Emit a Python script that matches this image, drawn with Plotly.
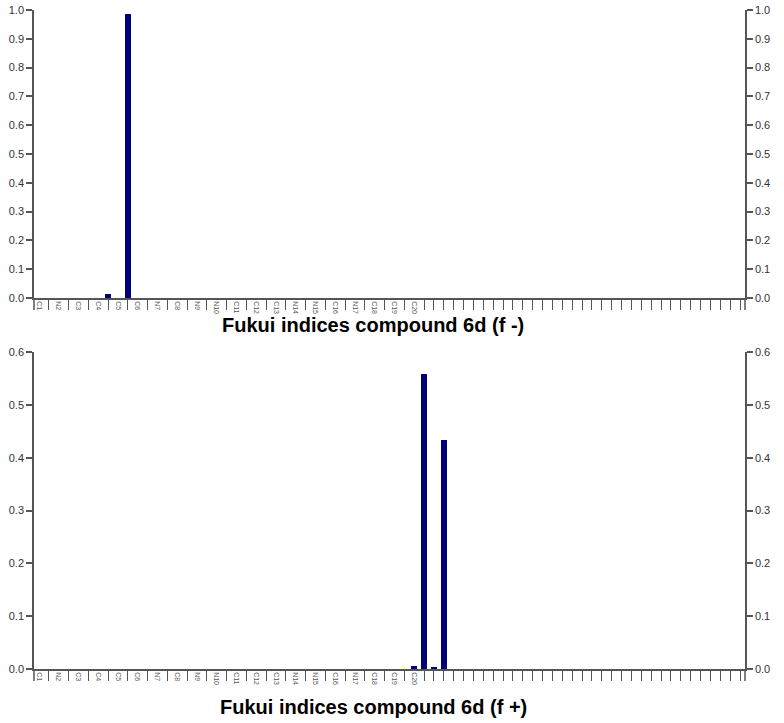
import plotly.graph_objects as go

# ---- data ----
atom_labels = ["C1", "N2", "C3", "C4", "C5", "C6", "N7", "C8", "N9", "N10",
               "C11", "C12", "C13", "N14", "N15", "C16", "N17", "C18", "C19", "C20"]
n_slots = 72
label_slots = list(range(0, 40, 2))
tick_slots = [i for i in range(n_slots) if i not in label_slots]

f_minus_slots = [7, 9]
f_minus_values = [0.015, 0.985]

f_plus_slots = [38, 39, 40, 41]
f_plus_values = [0.005, 0.559, 0.004, 0.434]

top_title = "Fukui indices compound 6d (f -)"
bottom_title = "Fukui indices compound 6d (f +)"

bar_color = "#00007a"
axis_color = "#555555"
label_color = "#333333"

W, H = 784, 723

fig = go.Figure()

fig.add_trace(go.Bar(x=f_minus_slots, y=f_minus_values, width=0.55,
                     marker=dict(color=bar_color, line=dict(width=0)),
                     xaxis="x", yaxis="y"))
fig.add_trace(go.Bar(x=f_minus_slots, y=f_minus_values, width=0.55, opacity=0,
                     hoverinfo="skip", xaxis="x", yaxis="y3"))
fig.add_trace(go.Bar(x=f_plus_slots, y=f_plus_values, width=0.55,
                     marker=dict(color=bar_color, line=dict(width=0)),
                     xaxis="x2", yaxis="y2"))
fig.add_trace(go.Bar(x=f_plus_slots, y=f_plus_values, width=0.55, opacity=0,
                     hoverinfo="skip", xaxis="x2", yaxis="y4"))

xdom = [34 / W, 745 / W]
top_dom = [1 - 298 / H, 1 - 10 / H]
bot_dom = [1 - 669 / H, 1 - 352 / H]


def xaxis_cfg(anchor):
    return dict(
        domain=xdom, anchor=anchor, range=[-0.5, n_slots - 0.5],
        showline=True, linecolor=axis_color, linewidth=1.5,
        showgrid=False, zeroline=False,
        tickmode="array", tickvals=label_slots, ticktext=atom_labels,
        ticks="", tickangle=90,
        tickfont=dict(family="Liberation Sans, Arial", size=7, color=axis_color),
        minor=dict(tickmode="array", tickvals=tick_slots, ticks="outside",
                   ticklen=10, tickcolor=axis_color, tickwidth=1),
        automargin=False,
    )


def yaxis_cfg(dom, rng, anchor, side="left", overlay=None):
    d = dict(
        domain=dom, anchor=anchor, range=rng, side=side,
        showline=True, linecolor=axis_color, linewidth=1.5,
        showgrid=False, zeroline=False,
        tickmode="linear", tick0=0, dtick=0.1, tickformat=".1f",
        ticks="outside", ticklen=6, tickcolor=axis_color, tickwidth=1.5,
        tickfont=dict(family="Liberation Sans, Arial", size=11, color=label_color),
        automargin=False,
    )
    if overlay:
        d["overlaying"] = overlay
    return d


fig.update_layout(
    width=W, height=H,
    margin=dict(l=0, r=0, t=0, b=0),
    paper_bgcolor="white", plot_bgcolor="white",
    showlegend=False, bargap=0,
    xaxis=xaxis_cfg("y"),
    yaxis=yaxis_cfg(top_dom, [0, 1.0], "x"),
    yaxis3=yaxis_cfg(top_dom, [0, 1.0], "x", side="right", overlay="y"),
    xaxis2=xaxis_cfg("y2"),
    yaxis2=yaxis_cfg(bot_dom, [0, 0.6], "x2"),
    yaxis4=yaxis_cfg(bot_dom, [0, 0.6], "x2", side="right", overlay="y2"),
)

# axis lines extending slightly below the x axis
for xr, yr, ext in [("x domain", "y domain", -0.042), ("x2 domain", "y2 domain", -0.038)]:
    for xd in [0, 1]:
        fig.add_shape(type="line", xref=xr, yref=yr, x0=xd, x1=xd, y0=0, y1=ext,
                      line=dict(color=axis_color, width=1.5))

title_font = dict(family="Liberation Sans, Arial", size=20, color="black")
fig.add_annotation(text="<b>" + top_title + "</b>", xref="paper", yref="paper",
                   x=373 / W, y=1 - 325 / H, xanchor="center", yanchor="middle",
                   showarrow=False, font=title_font)
fig.add_annotation(text="<b>" + bottom_title + "</b>", xref="paper", yref="paper",
                   x=373 / W, y=1 - 707 / H, xanchor="center", yanchor="middle",
                   showarrow=False, font=title_font)

fig.write_html("out.html",
               config={"displayModeBar": False},
               post_script="document.body.style.margin='0px';"
                           "document.body.style.overflow='hidden';")
